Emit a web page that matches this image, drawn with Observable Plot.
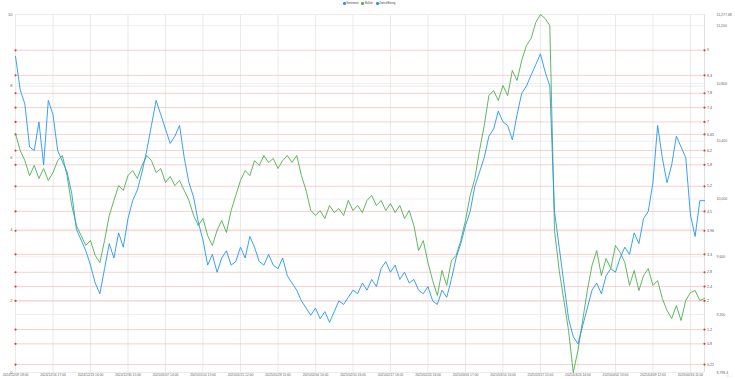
<!DOCTYPE html>
<html><head><meta charset="utf-8">
<script src="https://cdn.jsdelivr.net/npm/d3@7"></script>
<script src="https://cdn.jsdelivr.net/npm/@observablehq/plot@0.6"></script>
<style>
html,body{margin:0;padding:0;background:#fff;}
#wrap{position:relative;width:735px;height:379px;overflow:hidden;}
#legend{position:absolute;top:1.5px;left:0;width:738px;display:flex;justify-content:center;gap:3px;font:2.7px Arial,"Liberation Sans",sans-serif;color:#444;line-height:4px;}
#legend span.item{display:flex;align-items:center;gap:0.8px;}
#legend i{display:inline-block;width:2.7px;height:2.7px;border-radius:50%;}
</style></head>
<body><div id="wrap"><div id="legend"></div></div>
<script>
// ---- data ----
const xLabels = ["2024/12/09 18:00","2024/12/16 17:00","2024/12/23 16:00","2024/12/30 15:00","2025/01/07 14:00","2025/01/14 13:00","2025/01/21 12:00","2025/01/28 11:00","2025/02/04 10:00","2025/02/10 16:05","2025/02/17 16:05","2025/02/24 16:00","2025/03/03 17:00","2025/03/10 16:00","2025/03/17 15:00","2025/03/24 14:00","2025/04/02 13:00","2025/04/09 12:00","2025/04/16 11:00"];
const pointsPerLabel = 8;
const seriesNames = ["Sentiment","Bullish","Zweck/Ewing"];
const seriesColors = ["#2196f3","#4caf50","#2196f3"];

const sentiment = [8.83,7.9,7.5,6.3,6.2,7.0,5.8,7.6,7.2,6.2,
5.9,5.6,5.0,4.0,3.7,3.4,3.0,2.5,2.2,2.9,
3.6,3.2,3.9,3.5,4.3,4.8,5.1,5.6,6.2,6.9,
7.6,7.2,6.8,6.4,6.6,6.9,6.0,5.3,4.9,4.2,
3.7,3.0,3.3,2.8,3.2,3.4,3.0,3.1,3.5,3.2,
3.8,3.5,3.1,3.0,3.3,3.0,2.9,3.2,2.7,2.5,
2.3,2.0,1.8,1.6,1.8,1.5,1.7,1.4,1.7,2.0,
1.9,2.1,2.3,2.2,2.5,2.3,2.6,2.4,2.9,3.1,
2.8,3.0,2.6,2.8,2.5,2.6,2.3,2.2,2.4,2.0,
1.9,2.3,2.1,2.6,3.2,3.6,4.1,4.5,5.2,5.6,
6.0,6.6,6.8,7.3,7.0,6.9,6.5,7.2,7.8,8.0,
8.3,8.6,8.9,8.4,8.0,4.5,3.5,2.5,1.5,1.0,
0.8,1.3,1.8,2.3,2.5,2.2,2.7,2.9,2.8,3.2,
3.5,3.3,3.9,3.6,4.3,4.5,5.3,6.9,6.0,5.3,
5.8,6.6,6.3,6.0,4.4,3.8,4.8,4.8];

const price = [10453,10336,10266,10162,10232,10142,10211,10128,10183,10266,
10301,10162,9955,9816,9747,9678,9712,9609,9560,9712,
9886,9990,10093,10059,10162,10197,10142,10232,10301,10266,
10183,10211,10114,10156,10093,10128,10059,9990,9886,9816,
9865,9747,9678,9782,9851,9768,9920,10024,10128,10197,
10162,10266,10232,10301,10253,10280,10211,10266,10301,10253,
10301,10162,10059,9920,9886,9920,9865,9955,9906,9934,
9886,9990,9920,9955,9906,9990,10024,9955,9990,9920,
9969,9906,9955,9865,9920,9816,9643,9712,9560,9435,
9332,9505,9401,9574,9609,9712,9851,10024,10142,10336,
10509,10716,10751,10682,10786,10716,10890,10820,10959,11063,
11111,11222,11277.68,11250,11201,9782,9505,9297,9089,8798.4,
8951,9158,9366,9539,9643,9470,9588,9518,9678,9629,
9560,9401,9505,9366,9470,9518,9401,9435,9311,9228,
9172,9262,9158,9297,9352,9366,9297,9311];

const levels = [9,8.3,7.8,7.4,7,6.65,6.2,5.8,5.2,4.5,3.96,3.3,2.8,2.4,2,1.2,0.8,0.22];
const leftTicks = [0,2,4,6,8,10];
const priceTicks = [8798.4,9200,9600,10000,10400,10800,11200,11277.68];
const priceDomain = [8798.4,11277.68];

// ---- build ----
const N = sentiment.length;
const toLeft = d3.scaleLinear().domain(priceDomain).range([0,10]);
const rows = d3.range(N).map(i => ({i, s: sentiment[i], p: toLeft(price[i])}));
const xTicks = xLabels.map((_, j) => j * pointsPerLabel);
const priceLeft = priceTicks.map(toLeft);
const fmt = d3.format(",");

const chart = Plot.plot({
  width: 735, height: 379,
  marginLeft: 15, marginRight: 31, marginTop: 14, marginBottom: 7,
  style: {fontFamily: "Arial, 'Liberation Sans', sans-serif", background: "white", color: "#666", overflow: "visible"},
  x: {domain: [0, N - 1], axis: null},
  y: {domain: [0, 10], axis: null},
  marks: [
    Plot.gridX(xTicks, {stroke: "#e4e4e4", strokeOpacity: 1, strokeWidth: 0.8}),
    Plot.gridY(leftTicks, {stroke: "#e4e4e4", strokeOpacity: 1, strokeWidth: 0.8}),
    Plot.gridY(priceLeft, {stroke: "#ececec", strokeOpacity: 1, strokeWidth: 0.8}),
    Plot.ruleX([N - 1], {stroke: "#d8d8d8", strokeWidth: 0.8}),
    Plot.ruleY(levels, {stroke: "#f7c4c4", strokeWidth: 0.8}),
    Plot.dot(levels, {y: d => d, frameAnchor: "left", r: 1.1, fill: "#e53935", stroke: null}),
    Plot.dot(levels, {y: d => d, frameAnchor: "right", r: 1.1, fill: "#e53935", stroke: null}),
    Plot.text(levels, {y: d => d, frameAnchor: "right", text: d => String(d), dx: 2.6, textAnchor: "start", fontSize: 3.6, fill: "#555"}),
    Plot.line(rows, {x: "i", y: "p", stroke: seriesColors[1], strokeWidth: 0.9}),
    Plot.line(rows, {x: "i", y: "s", stroke: seriesColors[0], strokeWidth: 0.9}),
    Plot.axisX(xTicks, {tickFormat: i => xLabels[i / pointsPerLabel], tickSize: 0, tickPadding: 1.5, fontSize: 3.3, fill: "#666"}),
    Plot.axisY(leftTicks, {anchor: "left", tickSize: 0, tickPadding: 3, fontSize: 4, fill: "#666"}),
    Plot.axisY(priceLeft, {anchor: "right", tickSize: 0, tickPadding: 12, fontSize: 3.5, fill: "#666",
      tickFormat: v => fmt(+toLeft.invert(v).toFixed(2))})
  ]
});
document.getElementById("wrap").appendChild(chart);

const lg = document.getElementById("legend");
seriesNames.forEach((n, k) => {
  const it = document.createElement("span"); it.className = "item";
  const dot = document.createElement("i"); dot.style.background = seriesColors[k];
  it.appendChild(dot); it.appendChild(document.createTextNode(n));
  lg.appendChild(it);
});
</script></body></html>
